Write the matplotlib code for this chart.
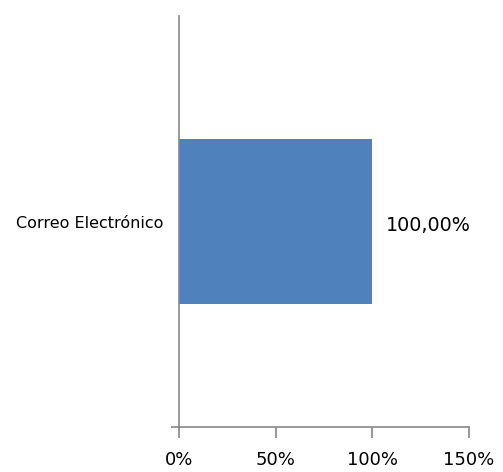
import matplotlib.pyplot as plt

categories = ['Correo Electrónico']
values = [100.0]
xticks = [0, 50, 100, 150]
xtick_labels = ['0%', '50%', '100%', '150%']

fig = plt.figure(figsize=(5.03, 4.72), dpi=100)
ax = fig.add_axes([179 / 503, 1 - 427 / 472, (469 - 179) / 503, (427 - 16) / 472])

bars = ax.barh(range(len(categories)), values, height=0.40, color='#4F81BD')

ax.set_xlim(0, 150)
ax.set_ylim(-0.5, len(categories) - 0.5)

ax.set_xticks(xticks)
ax.set_xticklabels(xtick_labels, fontsize=13, family='DejaVu Sans')
ax.tick_params(axis='x', length=8, width=1.2, color='#868686', pad=9)

ax.set_yticks(range(len(categories)))
ax.set_yticklabels(categories, fontsize=11.5, family='DejaVu Sans')
ax.tick_params(axis='y', length=0, pad=11)
ax.set_yticks([-0.5], minor=True)
ax.tick_params(axis='y', which='minor', length=6, width=1.2, color='#868686')

for s in ['top', 'right']:
    ax.spines[s].set_visible(False)
for s in ['left', 'bottom']:
    ax.spines[s].set_color('#868686')
    ax.spines[s].set_linewidth(1.2)

for b, v in zip(bars, values):
    ax.text(b.get_width() + 7, b.get_y() + b.get_height() / 2 - 0.01,
            f'{v:.2f}%'.replace('.', ','), va='center', ha='left',
            fontsize=13.8, family='DejaVu Sans')

fig.savefig('out.png', dpi=100)
